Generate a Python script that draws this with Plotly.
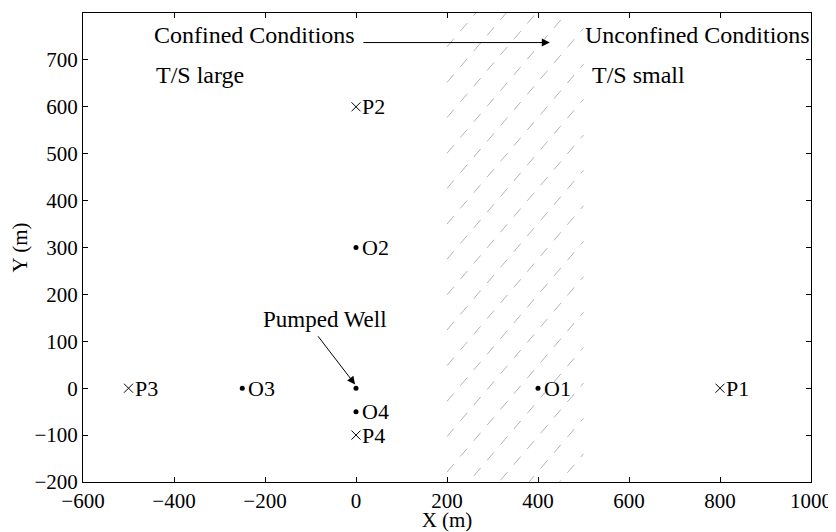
import plotly.graph_objects as go

# ---- data ----
obs_x = [0, 400, -250, 0]
obs_y = [300, 0, 0, -50]
obs_labels = ["O2", "O1", "O3", "O4"]

pump_x = [0]
pump_y = [0]

piez_x = [0, 800, -500, 0]
piez_y = [600, 0, 0, -100]
piez_labels = ["P2", "P1", "P3", "P4"]

x_ticks = [-600, -400, -200, 0, 200, 400, 600, 800, 1000]
y_ticks = [-200, -100, 0, 100, 200, 300, 400, 500, 600, 700, 800]

# transition zone (hatched band) between x=200 and x=500
band_x = [200, 500]
hatch_start_y = [728, 652, 577, 501, 426, 350, 275, 199, 124, 48, -28, -103,
                 -179, -254, -330, -405, -481]
hatch_rise = 341

FONT = "Liberation Serif, Times New Roman, serif"

hx, hy = [], []
for y0 in hatch_start_y:
    hx += [band_x[0], band_x[1], None]
    hy += [y0, y0 + hatch_rise, None]

fig = go.Figure()
fig.add_trace(go.Scatter(x=hx, y=hy, mode="lines",
                         line=dict(color="#b5b5b5", width=1, dash="10.6px,10px"),
                         hoverinfo="skip", showlegend=False))
fig.add_trace(go.Scatter(x=obs_x + pump_x, y=obs_y + pump_y, mode="markers",
                         marker=dict(symbol="circle", size=5, color="black"),
                         showlegend=False))
fig.add_trace(go.Scatter(x=piez_x, y=piez_y, mode="markers",
                         marker=dict(symbol="x-thin", size=9,
                                     line=dict(color="black", width=1)),
                         showlegend=False))

ann = []
for x, y, t in zip(obs_x, obs_y, obs_labels):
    ann.append(dict(x=x, y=y, text=t, showarrow=False, xanchor="left",
                    xshift=4, font=dict(size=22)))
for x, y, t in zip(piez_x, piez_y, piez_labels):
    ann.append(dict(x=x, y=y, text=t, showarrow=False, xanchor="left",
                    xshift=4, font=dict(size=22)))

ann += [
    dict(x=-448, y=754, text="Confined Conditions", showarrow=False,
         xanchor="left", font=dict(size=24)),
    dict(x=-445, y=668, text="T/S large", showarrow=False,
         xanchor="left", font=dict(size=24)),
    dict(x=499, y=754, text="Unconfined Conditions", showarrow=False,
         xanchor="left", font=dict(size=24)),
    dict(x=514, y=668, text="T/S small", showarrow=False,
         xanchor="left", font=dict(size=24)),
    dict(x=-68, y=146, text="Pumped Well", showarrow=False,
         font=dict(size=23)),
    # arrows
    dict(x=426, y=737, ax=13, ay=737, axref="x", ayref="y", text="",
         showarrow=True, arrowhead=2, arrowsize=1.6, arrowwidth=1,
         arrowcolor="black", standoff=0, startstandoff=0),
    dict(x=-2, y=8, ax=-86, ay=114, axref="x", ayref="y", text="",
         showarrow=True, arrowhead=2, arrowsize=1.6, arrowwidth=1,
         arrowcolor="black", standoff=0, startstandoff=0),
]

axis_common = dict(showline=True, linecolor="black", linewidth=1,
                   mirror="ticks", ticks="inside", ticklen=5,
                   tickcolor="black", showgrid=False, zeroline=False,
                   tickfont=dict(size=21), automargin=False)

# the page body adds an 8px offset; the figure is sized so that the plot box
# lands at the reference position (x 83..811, y 13..482)
fig.update_layout(
    width=828, height=524,
    margin=dict(l=75, r=25, t=5, b=50),
    paper_bgcolor="white", plot_bgcolor="white",
    font=dict(family=FONT, color="black", size=21),
    annotations=ann,
    xaxis=dict(range=[-600, 1000], tickvals=x_ticks,
               title=dict(text="X (m)", standoff=4, font=dict(size=21)),
               **axis_common),
    yaxis=dict(range=[-200, 800], tickvals=y_ticks,
               title=dict(text="Y (m)", standoff=6, font=dict(size=21)),
               **axis_common),
)

fig.write_html("out.html")
